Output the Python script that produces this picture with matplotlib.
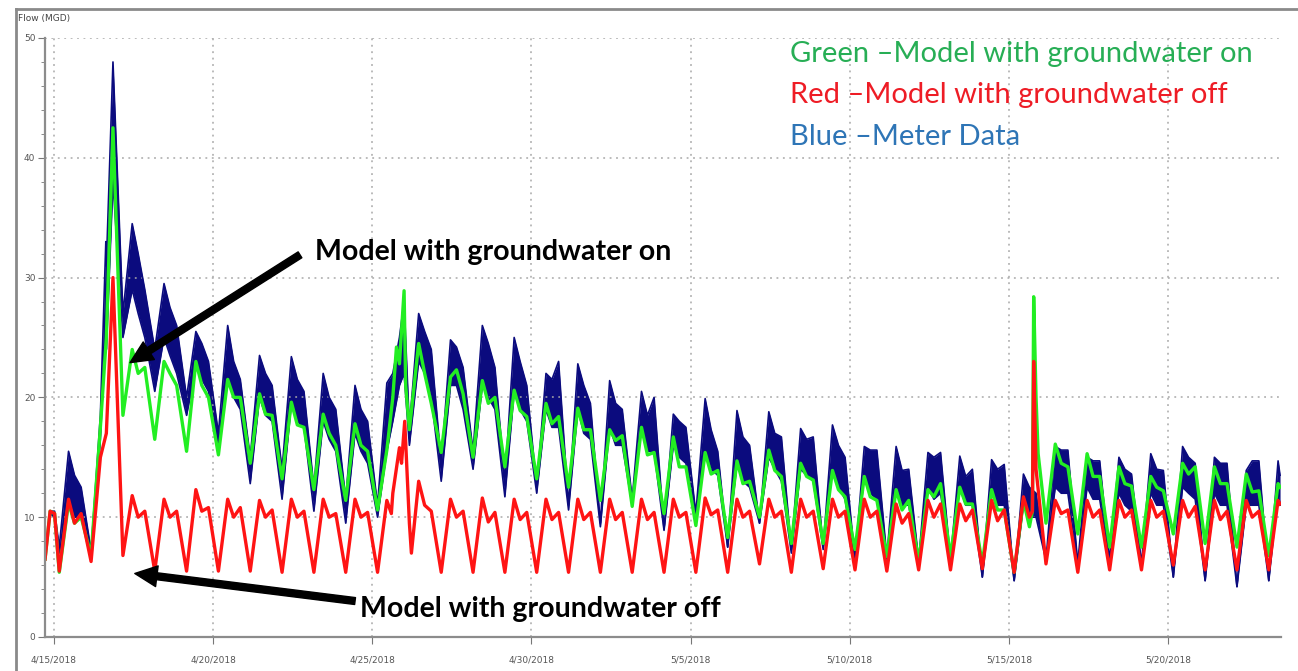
import datetime

import numpy as np
import matplotlib
matplotlib.use("Agg")
import matplotlib.pyplot as plt
import matplotlib.dates as mdates
from matplotlib.ticker import MultipleLocator
from matplotlib.lines import Line2D


START = datetime.datetime(2018, 4, 15)

# flow readings taken each day at these hours (MGD)
READ_HOURS = [4, 11, 15.5, 20.5]

# partial first day, days after 4/15 00:00
lead_days = [-0.28, -0.12, 0.02]
tail_day = 38.52

red_lead = [6.5, 10.5, 10.3]
green_lead = [6.5, 10.5, 10.3]
meter_hi_lead = [6.5, 10.5, 10.5]
meter_lo_lead = [6.5, 10.3, 10.0]

# model with groundwater off
red_rows = [
    [5.5, 11.5, 9.5, 10.3], [6.3, 15.0, 17.0, 30.0], [6.8, 11.8, 10.0, 10.5],
    [5.5, 11.5, 10.0, 10.5], [5.5, 12.3, 10.5, 10.8], [5.5, 11.5, 10.0, 10.8],
    [5.5, 11.4, 10.0, 10.6], [5.4, 11.5, 10.0, 10.5], [5.4, 11.5, 10.0, 10.3],
    [5.4, 11.5, 10.0, 10.4], [5.4, 11.4, 12.0, 15.8], [9.5, 13.0, 11.0, 10.5],
    [5.4, 11.5, 10.0, 10.5], [5.4, 11.6, 9.6, 10.4], [5.4, 11.5, 9.8, 10.4],
    [5.4, 11.5, 9.8, 10.4], [5.4, 11.5, 9.8, 10.4], [5.4, 11.5, 9.8, 10.4],
    [5.4, 11.5, 9.8, 10.4], [5.4, 11.5, 10.0, 10.4], [5.4, 11.6, 10.2, 10.6],
    [5.4, 11.5, 10.0, 10.5], [6.1, 11.5, 10.0, 10.5], [5.4, 11.5, 10.0, 10.5],
    [5.7, 11.5, 10.0, 10.5], [5.6, 11.5, 10.0, 10.5], [5.5, 11.1, 9.5, 10.3],
    [5.6, 11.4, 10.0, 11.1], [5.6, 11.1, 9.7, 10.6], [5.7, 11.4, 9.7, 10.6],
    [5.4, 11.7, 10.0, 14.0], [6.1, 11.4, 10.3, 10.6], [5.4, 11.4, 10.0, 10.6],
    [5.6, 11.4, 10.0, 10.6], [5.6, 11.4, 10.0, 10.5], [6.0, 11.4, 10.0, 10.9],
    [5.6, 11.4, 9.8, 10.5], [5.6, 11.4, 10.0, 10.5], [5.6, 11.4],
]
red_tail = 11.1
red_extra_days = [10.60, 10.92, 11.02, 11.23, 30.74, 30.78]
red_extra = [10.3, 14.5, 18.0, 7.0, 10.5, 23.0]

# model with groundwater on
green_rows = [
    [5.4, 11.2, 9.5, 10.0], [6.8, 17.5, 25.0, 42.5], [18.5, 24.0, 22.0, 22.5],
    [16.5, 23.0, 22.0, 21.0], [15.5, 23.0, 21.0, 20.0], [15.2, 21.5, 20.0, 20.0],
    [14.5, 20.3, 18.6, 18.5], [13.2, 19.6, 17.7, 17.5], [12.3, 18.6, 17.0, 16.0],
    [11.4, 17.8, 16.0, 15.5], [10.6, 15.6, 20.0, 22.8], [17.3, 24.5, 22.0, 19.5],
    [15.4, 21.7, 22.3, 20.3], [15.0, 21.4, 19.5, 20.0], [14.2, 20.6, 18.9, 18.4],
    [13.2, 19.5, 17.8, 18.4], [12.5, 19.1, 17.3, 17.3], [11.4, 17.3, 16.4, 16.8],
    [10.9, 17.5, 15.2, 15.4], [10.3, 16.7, 14.2, 14.2], [9.3, 15.4, 13.6, 13.9],
    [8.3, 14.7, 12.8, 13.0], [10.0, 15.6, 13.9, 13.4], [7.8, 14.5, 13.4, 13.1],
    [7.8, 13.9, 12.3, 11.7], [7.3, 13.4, 11.7, 11.4], [6.7, 12.3, 10.6, 11.4],
    [6.3, 12.3, 11.7, 12.8], [6.7, 12.5, 11.1, 11.1], [6.1, 12.3, 10.6, 10.6],
    [5.4, 11.4, 9.2, 20.0], [9.5, 16.1, 14.5, 14.2], [8.6, 15.3, 13.4, 13.4],
    [7.5, 14.2, 12.8, 12.6], [7.5, 13.4, 12.5, 12.2], [8.6, 14.5, 13.6, 14.2],
    [7.8, 14.2, 12.8, 12.8], [7.5, 13.6, 12.1, 12.2], [6.8, 12.8],
]
green_tail = 12.5
green_extra_days = [10.76, 11.00, 11.05, 30.74, 30.78, 30.92]
green_extra = [24.2, 28.9, 21.0, 10.5, 28.4, 15.3]

# meter data, upper and lower edge of the noisy trace
meter_hi_rows = [
    [7.5, 15.5, 13.5, 12.5], [7.2, 18.5, 31.0, 48.0], [27.0, 34.5, 32.0, 29.0],
    [24.0, 29.5, 27.5, 26.0], [20.0, 25.5, 24.5, 23.0], [17.0, 26.0, 23.0, 21.5],
    [15.0, 23.5, 22.0, 21.0], [14.0, 23.4, 21.5, 20.5], [12.5, 22.0, 20.0, 19.0],
    [11.5, 21.0, 19.0, 18.0], [11.0, 21.2, 22.0, 25.0], [17.5, 27.0, 25.5, 24.0],
    [14.5, 24.8, 24.2, 22.5], [15.5, 26.0, 24.5, 22.5], [13.0, 25.0, 23.0, 21.0],
    [12.5, 22.0, 21.5, 23.0], [11.0, 22.8, 21.0, 19.5], [9.5, 21.4, 19.5, 19.0],
    [11.5, 20.5, 18.5, 20.0], [9.0, 18.6, 18.0, 17.5], [10.3, 19.9, 17.3, 15.5],
    [7.5, 18.9, 16.7, 16.0], [9.5, 18.8, 17.0, 16.7], [7.3, 17.4, 16.5, 16.7],
    [7.5, 17.7, 16.0, 15.0], [6.4, 15.9, 15.6, 15.6], [6.7, 15.9, 13.9, 14.0],
    [6.4, 15.4, 15.0, 15.4], [6.4, 15.1, 13.4, 14.0], [5.0, 14.8, 14.0, 14.4],
    [4.7, 13.6, 12.5, 12.0], [6.4, 15.9, 15.6, 15.6], [6.1, 15.0, 14.7, 14.7],
    [6.4, 15.0, 14.0, 13.6], [6.1, 15.3, 14.0, 13.9], [5.0, 15.9, 15.0, 14.5],
    [4.7, 15.0, 14.5, 14.5], [4.2, 13.9, 14.7, 14.7], [4.7, 14.7],
]
meter_lo_rows = [
    [7.0, 11.0, 10.0, 10.0], [6.8, 16.5, 24.0, 38.0], [25.0, 29.0, 27.0, 25.0],
    [20.5, 25.0, 23.5, 22.0], [18.5, 22.5, 21.5, 20.5], [15.5, 21.5, 20.0, 19.0],
    [12.8, 20.0, 18.5, 18.0], [11.5, 19.5, 18.0, 17.5], [10.5, 18.0, 16.5, 15.5],
    [9.5, 17.0, 15.5, 14.5], [10.0, 15.5, 18.0, 21.0], [16.0, 23.0, 22.0, 20.0],
    [13.0, 21.0, 21.0, 19.0], [14.0, 21.0, 20.0, 19.0], [11.7, 20.5, 19.0, 18.0],
    [12.0, 19.0, 17.5, 17.5], [10.6, 19.0, 17.0, 16.5], [9.2, 17.5, 16.0, 16.0],
    [11.0, 17.5, 15.5, 15.5], [8.9, 16.0, 15.0, 14.5], [10.0, 15.5, 14.0, 13.5],
    [7.5, 14.5, 13.0, 12.5], [9.5, 15.0, 14.0, 13.0], [7.0, 14.0, 13.5, 13.0],
    [7.3, 14.0, 12.5, 11.5], [6.2, 13.5, 12.0, 11.5], [6.5, 12.5, 11.0, 11.0],
    [6.2, 12.5, 11.5, 12.0], [6.4, 12.5, 11.0, 11.0], [5.0, 12.0, 11.0, 11.0],
    [4.7, 11.0, 10.0, 10.0], [6.4, 12.5, 12.0, 12.0], [6.0, 12.5, 11.5, 11.5],
    [6.3, 12.0, 11.0, 10.5], [6.0, 12.0, 11.0, 11.0], [5.0, 12.5, 12.0, 11.5],
    [4.7, 12.0, 11.0, 11.0], [4.2, 11.0, 11.0, 11.0], [4.7, 12.0],
]
meter_hi_tail = 13.5
meter_lo_tail = 11.0
meter_extra_days = [1.63, 11.00]
meter_hi_extra = [33.0, 28.0]
meter_lo_extra = [26.0, 22.0]


def build(lead, rows, extra_days, extra, tail):
    days = list(lead_days)
    vals = list(lead)
    for day, row in enumerate(rows):
        for hour, val in zip(READ_HOURS, row):
            days.append(day + hour / 24)
            vals.append(val)
    days += extra_days + [tail_day]
    vals += extra + [tail]
    days = np.array(days)
    vals = np.array(vals)
    order = np.argsort(days)
    times = [START + datetime.timedelta(days=float(d)) for d in days[order]]
    return times, vals[order]


def day(d):
    return START + datetime.timedelta(days=d)


red_t, red_v = build(red_lead, red_rows, red_extra_days, red_extra, red_tail)
green_t, green_v = build(green_lead, green_rows, green_extra_days, green_extra, green_tail)
meter_t, meter_hi = build(meter_hi_lead, meter_hi_rows, meter_extra_days, meter_hi_extra, meter_hi_tail)
_, meter_lo = build(meter_lo_lead, meter_lo_rows, meter_extra_days, meter_lo_extra, meter_lo_tail)

fig = plt.figure(figsize=(12.98, 6.71), dpi=100)
ax = fig.add_axes([0.0347, 0.0507, 0.9522, 0.8927])

navy = "#0b0b7e"
ax.fill_between(meter_t, meter_lo, meter_hi, color=navy, lw=0)
ax.plot(meter_t, meter_hi, color=navy, lw=1.2)
ax.plot(meter_t, meter_lo, color=navy, lw=1.2)
ax.plot(green_t, green_v, color="#22ee22", lw=2.4, solid_joinstyle="round")
ax.plot(red_t, red_v, color="#ff1414", lw=2.4, solid_joinstyle="round")

ax.set_xlim(day(-0.28), day(38.55))
ax.set_ylim(0, 50)

ax.xaxis.set_major_locator(mdates.DayLocator(bymonthday=[5, 10, 15, 20, 25, 30]))
ax.xaxis.set_major_formatter(plt.FuncFormatter(
    lambda x, pos: "{0.month}/{0.day}/{0.year}".format(mdates.num2date(x))))
ax.yaxis.set_major_locator(MultipleLocator(10))
ax.yaxis.set_minor_locator(MultipleLocator(2))

ax.grid(which="major", color="#a8a8a8", linestyle=(0, (1.2, 3)), lw=1.1)
for side in ["top", "right"]:
    ax.spines[side].set_visible(False)
for side in ["left", "bottom"]:
    ax.spines[side].set_color("#8c8c8c")
    ax.spines[side].set_linewidth(1.6)
ax.tick_params(which="both", colors="#777777", labelcolor="#555555", labelsize=6.5)
ax.tick_params(axis="x", length=5, pad=8)
ax.tick_params(axis="y", which="major", length=5, pad=2)
ax.tick_params(axis="y", which="minor", length=3)

fig.text(18 / 1298, 1 - 18 / 671, "Flow (MGD)", fontsize=6.5, color="#444444",
         va="center", ha="left")

# arrows to the model traces
arrow = dict(facecolor="black", edgecolor="black", width=5, headwidth=15,
             headlength=16, shrink=0)
ax.annotate("", xy=(day(2.39), 22.9), xytext=(day(7.73), 31.9), arrowprops=arrow)
ax.annotate("", xy=(day(2.54), 5.3), xytext=(day(9.46), 3.0), arrowprops=arrow)
ax.text(day(8.2), 32.1, "Model with groundwater on", fontsize=20.5, fontweight="bold",
        family="Lato", va="center", ha="left")
ax.text(day(9.61), 2.3, "Model with groundwater off", fontsize=20.5, fontweight="bold",
        family="Lato", va="center", ha="left")

legend_lines = [
    ("Green \u2013Model with groundwater on", "#27ae55", 0.974),
    ("Red \u2013Model with groundwater off", "#ee1c25", 0.904),
    ("Blue \u2013Meter Data", "#2e75b6", 0.834),
]
for label, color, y in legend_lines:
    ax.text(0.603, y, label, transform=ax.transAxes, fontsize=21, color=color,
            family="Lato", va="center", ha="left")

# outer frame of the screenshot
fig.add_artist(Line2D([16 / 1298, 16 / 1298], [0, 1 - 9 / 671], color="#8a8a8a", lw=2))
fig.add_artist(Line2D([16 / 1298, 1], [1 - 9 / 671, 1 - 9 / 671], color="#8a8a8a", lw=2))

fig.savefig("out.png", dpi=100)
